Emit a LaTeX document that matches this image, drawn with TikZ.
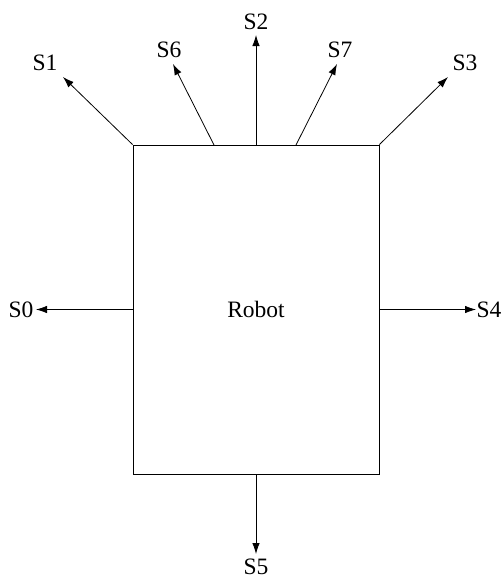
\documentclass[tikz,border=0pt]{standalone}
\usepackage{fontspec}
\setmainfont{Liberation Serif}
\usetikzlibrary{arrows.meta}
\begin{document}
\begin{tikzpicture}[x=1pt,y=-1pt,
  lbl/.style={font=\fontsize{23.5}{26}\selectfont, inner sep=0pt},
  conn/.style={line width=0.8pt, -{Latex[length=11pt,width=7.5pt]}}]
\useasboundingbox (0,0) rectangle (503,579);
\node[draw, line width=0.8pt, minimum width=246pt, minimum height=329pt, inner sep=0pt] (robot) at (256,309.5) {};
\node[lbl] (trobot) at (256,309) {Robot};
% start points on the box
\coordinate (p1) at (robot.north west);
\coordinate (p6) at (214,145);
\coordinate (p2) at (robot.north);
\coordinate (p7) at (296,145);
\coordinate (p3) at (robot.north east);
\coordinate (p0) at (robot.west);
\coordinate (p4) at (robot.east);
\coordinate (p5) at (robot.south);
% arrow tips
\coordinate (t1) at (63,77);
\coordinate (t6) at (173,64);
\coordinate (t2) at (256,35);
\coordinate (t7) at (337,64);
\coordinate (t3) at (448,77);
\coordinate (t0) at (36,309.5);
\coordinate (t4) at (476,309.5);
\coordinate (t5) at (256,554);
% labels
\node[lbl] (s1) at (45,63) {S1};
\node[lbl] (s6) at (169,50) {S6};
\node[lbl] (s2) at (256,22) {S2};
\node[lbl] (s7) at (340,50) {S7};
\node[lbl] (s3) at (465,63) {S3};
\node[lbl] (s0) at (21,309.5) {S0};
\node[lbl] (s4) at (489,309.5) {S4};
\node[lbl] (s5) at (256,567) {S5};
% connectors
\draw[conn] (p1) -- (t1);
\draw[conn] (p6) -- (t6);
\draw[conn] (p2) -- (t2);
\draw[conn] (p7) -- (t7);
\draw[conn] (p3) -- (t3);
\draw[conn] (p0) -- (t0);
\draw[conn] (p4) -- (t4);
\draw[conn] (p5) -- (t5);
\end{tikzpicture}
\end{document}
